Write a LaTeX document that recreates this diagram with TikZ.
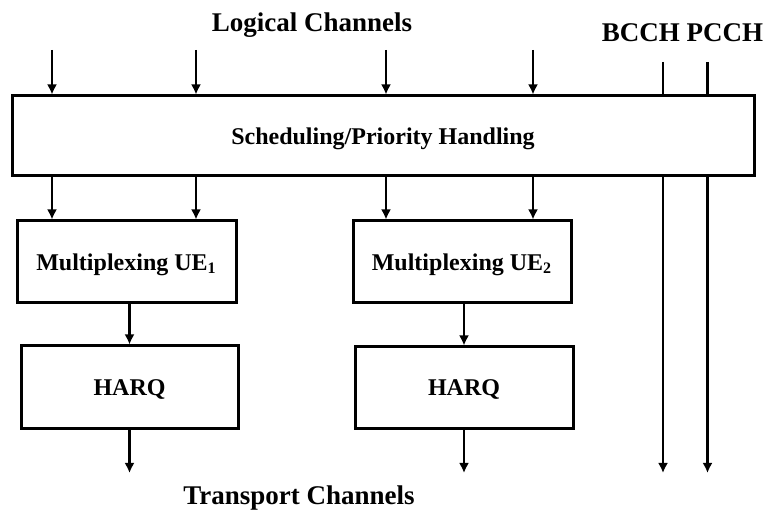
\documentclass[tikz,border=0pt]{standalone}
\usepackage{fontspec}
\setmainfont{Liberation Serif}
\usetikzlibrary{arrows.meta}

\begin{document}
\begin{tikzpicture}[x=0.5pt, y=-0.5pt,
        block/.style={draw=black, line width=1.5pt, fill=white, inner sep=0pt, text depth=0pt,
            font=\fontsize{12}{14}\selectfont\bfseries},
        flow/.style={-{Latex[length=5pt,width=5pt]}, line width=1.2pt},
        plain/.style={line width=1.2pt},
        title/.style={anchor=base, inner sep=0pt,
            font=\fontsize{13.5}{16}\selectfont\bfseries}]
        \useasboundingbox (0,0) rectangle (767,513);

        % labels
        \node[title] (logical) at (312, 32) {Logical Channels};
        \node[title] (bcpc) at (682.5, 42) {BCCH PCCH};
        \node[title] (transport) at (299, 505) {Transport Channels};

        % boxes
        \node[block, minimum width=371pt, minimum height=40pt] (sched) at (383, 136) {Scheduling/Priority Handling};
        \node[block, minimum width=109.5pt, minimum height=41pt] (mux1) at (126.5, 262) {Multiplexing UE\textsubscript{1}};
        \node[block, minimum width=108.5pt, minimum height=41.5pt] (harq1) at (129.5, 387.5) {HARQ};
        \node[block, minimum width=109pt, minimum height=41pt] (mux2) at (462, 262) {Multiplexing UE\textsubscript{2}};
        \node[block, minimum width=109pt, minimum height=41pt] (harq2) at (464, 388) {HARQ};

        % free ends
        \coordinate (in1) at (52, 50);
        \coordinate (in2) at (196, 50);
        \coordinate (in3) at (386, 50);
        \coordinate (in4) at (533, 50);
        \coordinate (bcch) at (663, 62);
        \coordinate (pcch) at (707.5, 62);
        \coordinate (out1) at (129.5, 473);
        \coordinate (out2) at (464, 473);
        \coordinate (bcchend) at (663, 473);
        \coordinate (pcchend) at (707.5, 473);

        % logical channels
        \foreach \c in {in1, in2, in3, in4}
            \draw[flow] (\c) -- (\c |- sched.north);
        \draw[flow] (sched.south -| in1) -- (in1 |- mux1.north);
        \draw[flow] (sched.south -| in2) -- (in2 |- mux1.north);
        \draw[flow] (sched.south -| in3) -- (in3 |- mux2.north);
        \draw[flow] (sched.south -| in4) -- (in4 |- mux2.north);

        % multiplexing to harq
        \draw[flow] (harq1.north |- mux1.south) -- (harq1.north);
        \draw[flow] (harq2.north |- mux2.south) -- (harq2.north);
        \draw[flow] (harq1.south) -- (out1);
        \draw[flow] (harq2.south) -- (out2);

        % bcch and pcch
        \draw[plain] (bcch) -- (bcch |- sched.north);
        \draw[plain] (pcch) -- (pcch |- sched.north);
        \draw[flow] (bcch |- sched.south) -- (bcchend);
        \draw[flow] (pcch |- sched.south) -- (pcchend);
    \end{tikzpicture}
\end{document}
